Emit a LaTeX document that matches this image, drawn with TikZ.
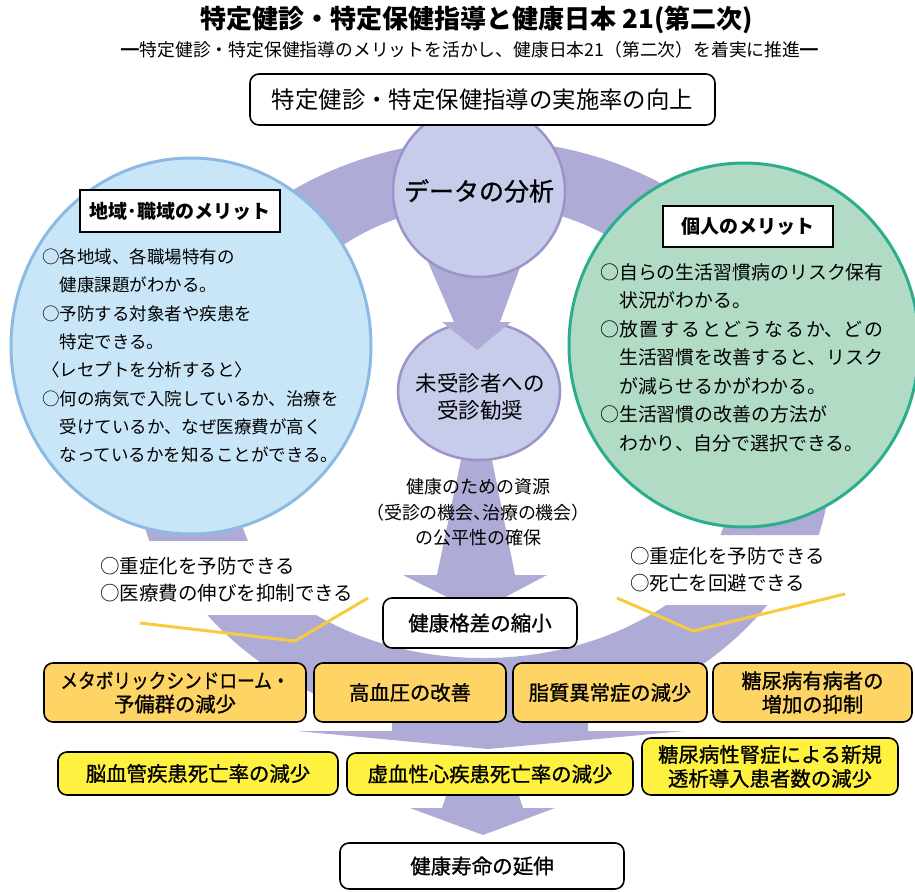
\documentclass[tikz,border=0pt]{standalone}
\usepackage{fontspec}
\setmainfont{Noto Sans CJK JP}
\newfontfamily\jpp[RawFeature=+palt]{Noto Sans CJK JP}
\newfontfamily\jpm[FakeBold=1]{Noto Sans CJK JP}
\usepackage{graphicx}
\usetikzlibrary{shapes.geometric}
\definecolor{ringc}{RGB}{174,172,214}
\definecolor{dcfill}{RGB}{198,204,234}
\definecolor{dcline}{RGB}{155,148,202}
\definecolor{lfill}{RGB}{201,230,248}
\definecolor{lline}{RGB}{141,186,228}
\definecolor{rfill}{RGB}{177,219,197}
\definecolor{rline}{RGB}{44,174,142}
\definecolor{ofill}{RGB}{254,212,100}
\definecolor{yfill}{RGB}{255,241,64}
\definecolor{gline}{RGB}{248,203,60}
\tikzset{
  ltext/.style={anchor=west, inner sep=0pt, font=\fontsize{17.5}{20}\selectfont},
  rtext/.style={anchor=west, inner sep=0pt, font=\fontsize{18.9}{22}\selectfont},
  lowtext/.style={anchor=west, inner sep=0pt, font=\fontsize{19.5}{22}\selectfont},
  midtext/.style={inner sep=0pt, font=\fontsize{18}{20}\selectfont},
  wbox/.style={draw=black, line width=1.6pt, fill=white, rounded corners=9pt, inner sep=0pt},
  obox/.style={draw=black, line width=1.6pt, fill=ofill, rounded corners=9pt, inner sep=0pt, align=center, font=\jpm\fontsize{20.3}{23.5}\selectfont},
  ybox/.style={draw=black, line width=1.6pt, fill=yfill, rounded corners=9pt, inner sep=0pt, align=center, font=\jpm\fontsize{20.4}{24}\selectfont},
  tbox/.style={draw=black, line width=1.4pt, fill=white, inner sep=0pt, font=\bfseries\fontsize{19}{22}\selectfont},
  gold/.style={draw=gline, line width=3pt},
  blob/.style={fill=ringc, draw=none},
}
\begin{document}
\begin{tikzpicture}[x=1pt,y=-1pt]
\useasboundingbox (0,0) rectangle (915,891);
% upper ring
\begin{scope}
\clip (0,0) -- (915,0) -- (915,535) -- (483,535) -- (483,541) -- (0,541) -- cycle;
\fill[ringc, even odd rule] (483,450) ellipse [x radius=349pt, y radius=310pt]
  (483,450) ellipse [x radius=253pt, y radius=246pt];
\end{scope}
% lower ring
\begin{scope}
\clip (0,615) -- (483,615) -- (483,605) -- (915,605) -- (915,900) -- (0,900) -- cycle;
\fill[ringc, even odd rule] (483,440) ellipse [x radius=345pt, y radius=291pt]
  (483,440) ellipse [x radius=280pt, y radius=218pt];
\end{scope}
% arrow between rows
\fill[blob] (392,700) -- (588,700) -- (588,731) -- (685,731) -- (488,749) -- (297,731) -- (392,731) -- cycle;
% bottom arrow
\fill[blob] (448,790) -- (517,790) -- (523,808) -- (555,808) -- (483,835) -- (410,808) -- (442,808) -- cycle;
% arrow from mijushin to kakusa
\fill[blob] (463,450) -- (490,450) -- (515,575) -- (547,575) -- (477,612) -- (403,575) -- (437,575) -- cycle;
% mijushin ellipse
\node[ellipse, draw=dcline, line width=2.5pt, fill=dcfill, minimum width=162pt, minimum height=138pt, inner sep=0pt] (mj) at (479,391) {};
% arrow from data to mijushin
\fill[blob] (428,262) -- (522,262) -- (500,322) -- (511,322) -- (477,350) -- (442,322) -- (454,322) -- cycle;
% data circle
\node[circle, draw=dcline, line width=2.5pt, fill=dcfill, minimum size=172pt, inner sep=0pt, font=\jpm\fontsize{25}{28}\selectfont] (data) at (479,191) {データの分析};
\node[inner sep=0pt, align=center, font=\fontsize{21.5}{27}\selectfont] (mjt) at (480,397) {未受診者への\\受診勧奨};
% side circles
\node[ellipse, draw=lline, line width=3pt, fill=lfill, minimum width=360pt, minimum height=376pt, inner sep=0pt] (lc) at (191,346) {};
\node[ellipse, draw=rline, line width=3pt, fill=rfill, minimum width=350pt, minimum height=364pt, inner sep=0pt] (rc) at (744,345) {};
% title texts
\node[inner sep=0pt, font=\bfseries\fontsize{26}{30}\selectfont] (title) at (477,20) {特定健診・特定保健指導と健康日本 21(第二次)};
\node[inner sep=0pt, font=\fontsize{17.8}{20}\selectfont] (sub) at (470,50) {━特定健診・特定保健指導のメリットを活かし、健康日本21（第二次）を着実に推進━};
\node[wbox, minimum width=465pt, minimum height=51pt, font=\fontsize{23.4}{26}\selectfont] (top) at (482.5,99.5) {特定健診・特定保健指導の実施率の向上};
% left circle content
\node[tbox, minimum width=200pt, minimum height=42pt] (lt) at (180,211) {地域･職域のメリット};
\node[ltext] (l1) at (42,257) {○各地域、各職場特有の};
\node[ltext] (l2) at (42,285.3) {　健康課題がわかる。};
\node[ltext] (l3) at (42,313.6) {○予防する対象者や疾患を};
\node[ltext] (l4) at (42,341.9) {　特定できる。};
\node[ltext] (l5) at (42,370.2) {〈レセプトを分析すると〉};
\node[ltext] (l6) at (42,398.5) {○何の病気で入院しているか、治療を};
\node[ltext] (l7) at (42,426.8) {　受けているか、なぜ医療費が高く};
\node[ltext] (l8) at (42,455.1) {　なっているかを知ることができる。};
% right circle content
\node[tbox, minimum width=170pt, minimum height=41pt] (rt) at (748,226.5) {個人のメリット};
\node[rtext] (r1) at (600,272) {○自らの生活習慣病のリスク保有};
\node[rtext] (r2) at (600,300.5) {　状況がわかる。};
\node[rtext] (r3) at (600,329) {\makebox[283pt][s]{○放\hfil 置\hfil す\hfil る\hfil と\hfil ど\hfil う\hfil な\hfil る\hfil か、ど\hfil の}};
\node[rtext] (r4) at (600,357.5) {　生活習慣を改善すると、リスク};
\node[rtext] (r5) at (600,386) {　が減らせるかがわかる。};
\node[rtext] (r6) at (600,414.5) {○生活習慣の改善の方法が};
\node[rtext] (r7) at (600,443) {　わかり、自分で選択できる。};
% middle text
\node[midtext] (m1) at (478,487) {健康のための資源};
\node[midtext] (m2) at (478,513) {\jpp （受診の機会、治療の機会）};
\node[midtext] (m3) at (478,538) {の公平性の確保};
% lower texts
\node[lowtext] (lo1) at (100,566) {○重症化を予防できる};
\node[lowtext] (lo2) at (100,593) {○医療費の伸びを抑制できる};
\node[lowtext] (ro1) at (630,556) {○重症化を予防できる};
\node[lowtext] (ro2) at (630,583) {○死亡を回避できる};
% gold lines
\coordinate (ga) at (140,623);
\coordinate (gb) at (295,641);
\coordinate (gc) at (368,598);
\coordinate (gd) at (617,598);
\coordinate (ge) at (693,631);
\coordinate (gf) at (845,594);
\draw[gold] (ga) -- (gb) -- (gc);
\draw[gold] (gd) -- (ge) -- (gf);
% kakusa box
\node[wbox, minimum width=194pt, minimum height=50pt, font=\jpm\fontsize{20.5}{24}\selectfont] (kk) at (480,623) {健康格差の縮小};
% row 1
\node[obox, minimum width=262pt, minimum height=59pt] (b1) at (175,692.5) {\scalebox{0.87}[1]{メタボリックシンドローム・}\\予備群の減少};
\node[obox, minimum width=192pt, minimum height=59pt] (b2) at (410,692.5) {高血圧の改善};
\node[obox, minimum width=194pt, minimum height=59pt] (b3) at (610,692.5) {脂質異常症の減少};
\node[obox, minimum width=199pt, minimum height=59pt] (b4) at (812.5,692.5) {糖尿病有病者の\\増加の抑制};
% row 2
\node[ybox, minimum width=280pt, minimum height=43pt] (ba) at (198,773.5) {脳血管疾患死亡率の減少};
\node[ybox, minimum width=286pt, minimum height=42pt] (bb) at (490,774) {虚血性心疾患死亡率の減少};
\node[ybox, minimum width=256pt, minimum height=57pt] (bc) at (770,766.5) {糖尿病性腎症による新規\\透析導入患者数の減少};
% final
\node[wbox, minimum width=284pt, minimum height=46pt, font=\jpm\fontsize{20.5}{24}\selectfont] (jm) at (482,866) {健康寿命の延伸};
\end{tikzpicture}
\end{document}
